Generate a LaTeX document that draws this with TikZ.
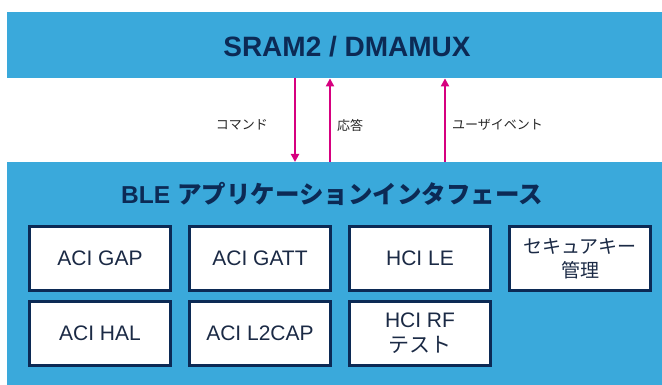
\documentclass[tikz,border=0pt]{standalone}
\usepackage{fontspec}
\setmainfont{Liberation Sans}
\newfontfamily\cjk{Noto Sans CJK JP}
\usetikzlibrary{arrows.meta}
\definecolor{panelblue}{HTML}{3AA9DB}
\definecolor{navy}{HTML}{0C2A55}
\definecolor{boxtext}{HTML}{1B2A45}
\definecolor{magentaarrow}{HTML}{D6007F}
\tikzset{
  panel/.style={fill=panelblue, draw=none, inner sep=0pt, anchor=north west},
  modbox/.style={draw=navy, line width=3pt, fill=white, minimum width=141pt, minimum height=64pt,
    inner sep=0pt, align=center, text=boxtext, font=\fontsize{21}{25}\selectfont},
  arr/.style={draw=magentaarrow, line width=2.5pt, -{Triangle[width=8pt,length=8pt]}},
  lbl/.style={inner sep=0pt, text=black!85, font=\cjk\fontsize{13}{15}\selectfont},
  title/.style={inner sep=0pt, text=navy, font=\bfseries}
}
\begin{document}
\begin{tikzpicture}[x=1pt,y=-1pt]
\useasboundingbox (0,0) rectangle (662,385);
% panels
\node[panel, minimum width=655pt, minimum height=66pt] (sram) at (7,12) {};
\node[panel, minimum width=655pt, minimum height=223pt] (ble) at (7,162) {};
\node[title, font=\bfseries\fontsize{28}{32}\selectfont] (sramt) at (347,47) {SRAM2 / DMAMUX};
\node[title, font=\bfseries\fontsize{24.5}{28}\selectfont] (blet) at (332,194) {BLE {\cjk\bfseries アプリケーションインタフェース}};
% arrow x positions
\path (295,0) coordinate (x1) (330,0) coordinate (x2) (445,0) coordinate (x3);
\draw[arr] (sram.south -| x1) -- (ble.north -| x1);
\draw[arr] (ble.north -| x2) -- (sram.south -| x2);
\draw[arr] (ble.north -| x3) -- (sram.south -| x3);
\node[lbl, anchor=east] (l1) at (268,125) {コマンド};
\node[lbl, anchor=west] (l2) at (337,125) {応答};
\node[lbl, anchor=west] (l3) at (452,125) {ユーザイベント};
% module boxes
\node[modbox] (gap) at (100,258.5) {ACI GAP};
\node[modbox] (gatt) at (260,258.5) {ACI GATT};
\node[modbox] (hcile) at (420,258.5) {HCI LE};
\node[modbox, font=\cjk\fontsize{19}{24}\selectfont] (key) at (580,258.5) {セキュアキー\\管理};
\node[modbox] (hal) at (100,333.5) {ACI HAL};
\node[modbox] (l2cap) at (260,333.5) {ACI L2CAP};
\node[modbox] (rf) at (420,333.5) {HCI RF\\{\cjk テスト}};
\end{tikzpicture}
\end{document}
